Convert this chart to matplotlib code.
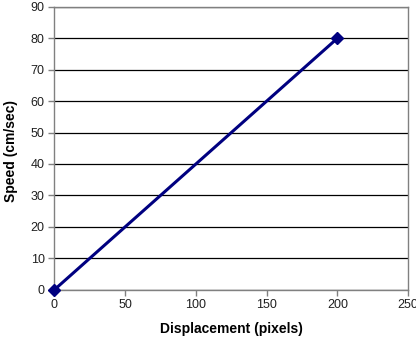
import matplotlib
matplotlib.use("Agg")
import matplotlib.pyplot as plt

displacement = [0, 200]
speed = [0, 80]
x_ticks = [0, 50, 100, 150, 200, 250]
y_ticks = [0, 10, 20, 30, 40, 50, 60, 70, 80, 90]

plt.rcParams['font.family'] = ['Liberation Sans', 'DejaVu Sans']

fig = plt.figure(figsize=(4.16, 3.44), dpi=100)
ax = fig.add_axes([0.131, 0.158, 0.850, 0.822])

ax.plot(displacement, speed, color='#000080', linewidth=2.2, marker='D',
        markersize=6, markerfacecolor='#000080', markeredgecolor='#000080',
        clip_on=False, zorder=3)

ax.set_xlim(0, 250)
ax.set_ylim(0, 90)
ax.set_xticks(x_ticks)
ax.set_yticks(y_ticks)
ax.yaxis.grid(True, color='black', linewidth=0.9)
ax.set_axisbelow(True)

for side in ['left', 'bottom', 'top', 'right']:
    ax.spines[side].set_color('#808080')
    ax.spines[side].set_linewidth(1.0)

ax.tick_params(direction='out', length=4, width=1, color='#808080',
               labelsize=9, labelcolor='#202020', pad=3)

ax.set_xlabel('Displacement (pixels)', fontsize=10, fontweight='bold', labelpad=8)
ax.set_ylabel('Speed (cm/sec)', fontsize=10, fontweight='bold')
ax.yaxis.set_label_coords(-0.103, 0.49)

fig.savefig('out.png', dpi=100)
